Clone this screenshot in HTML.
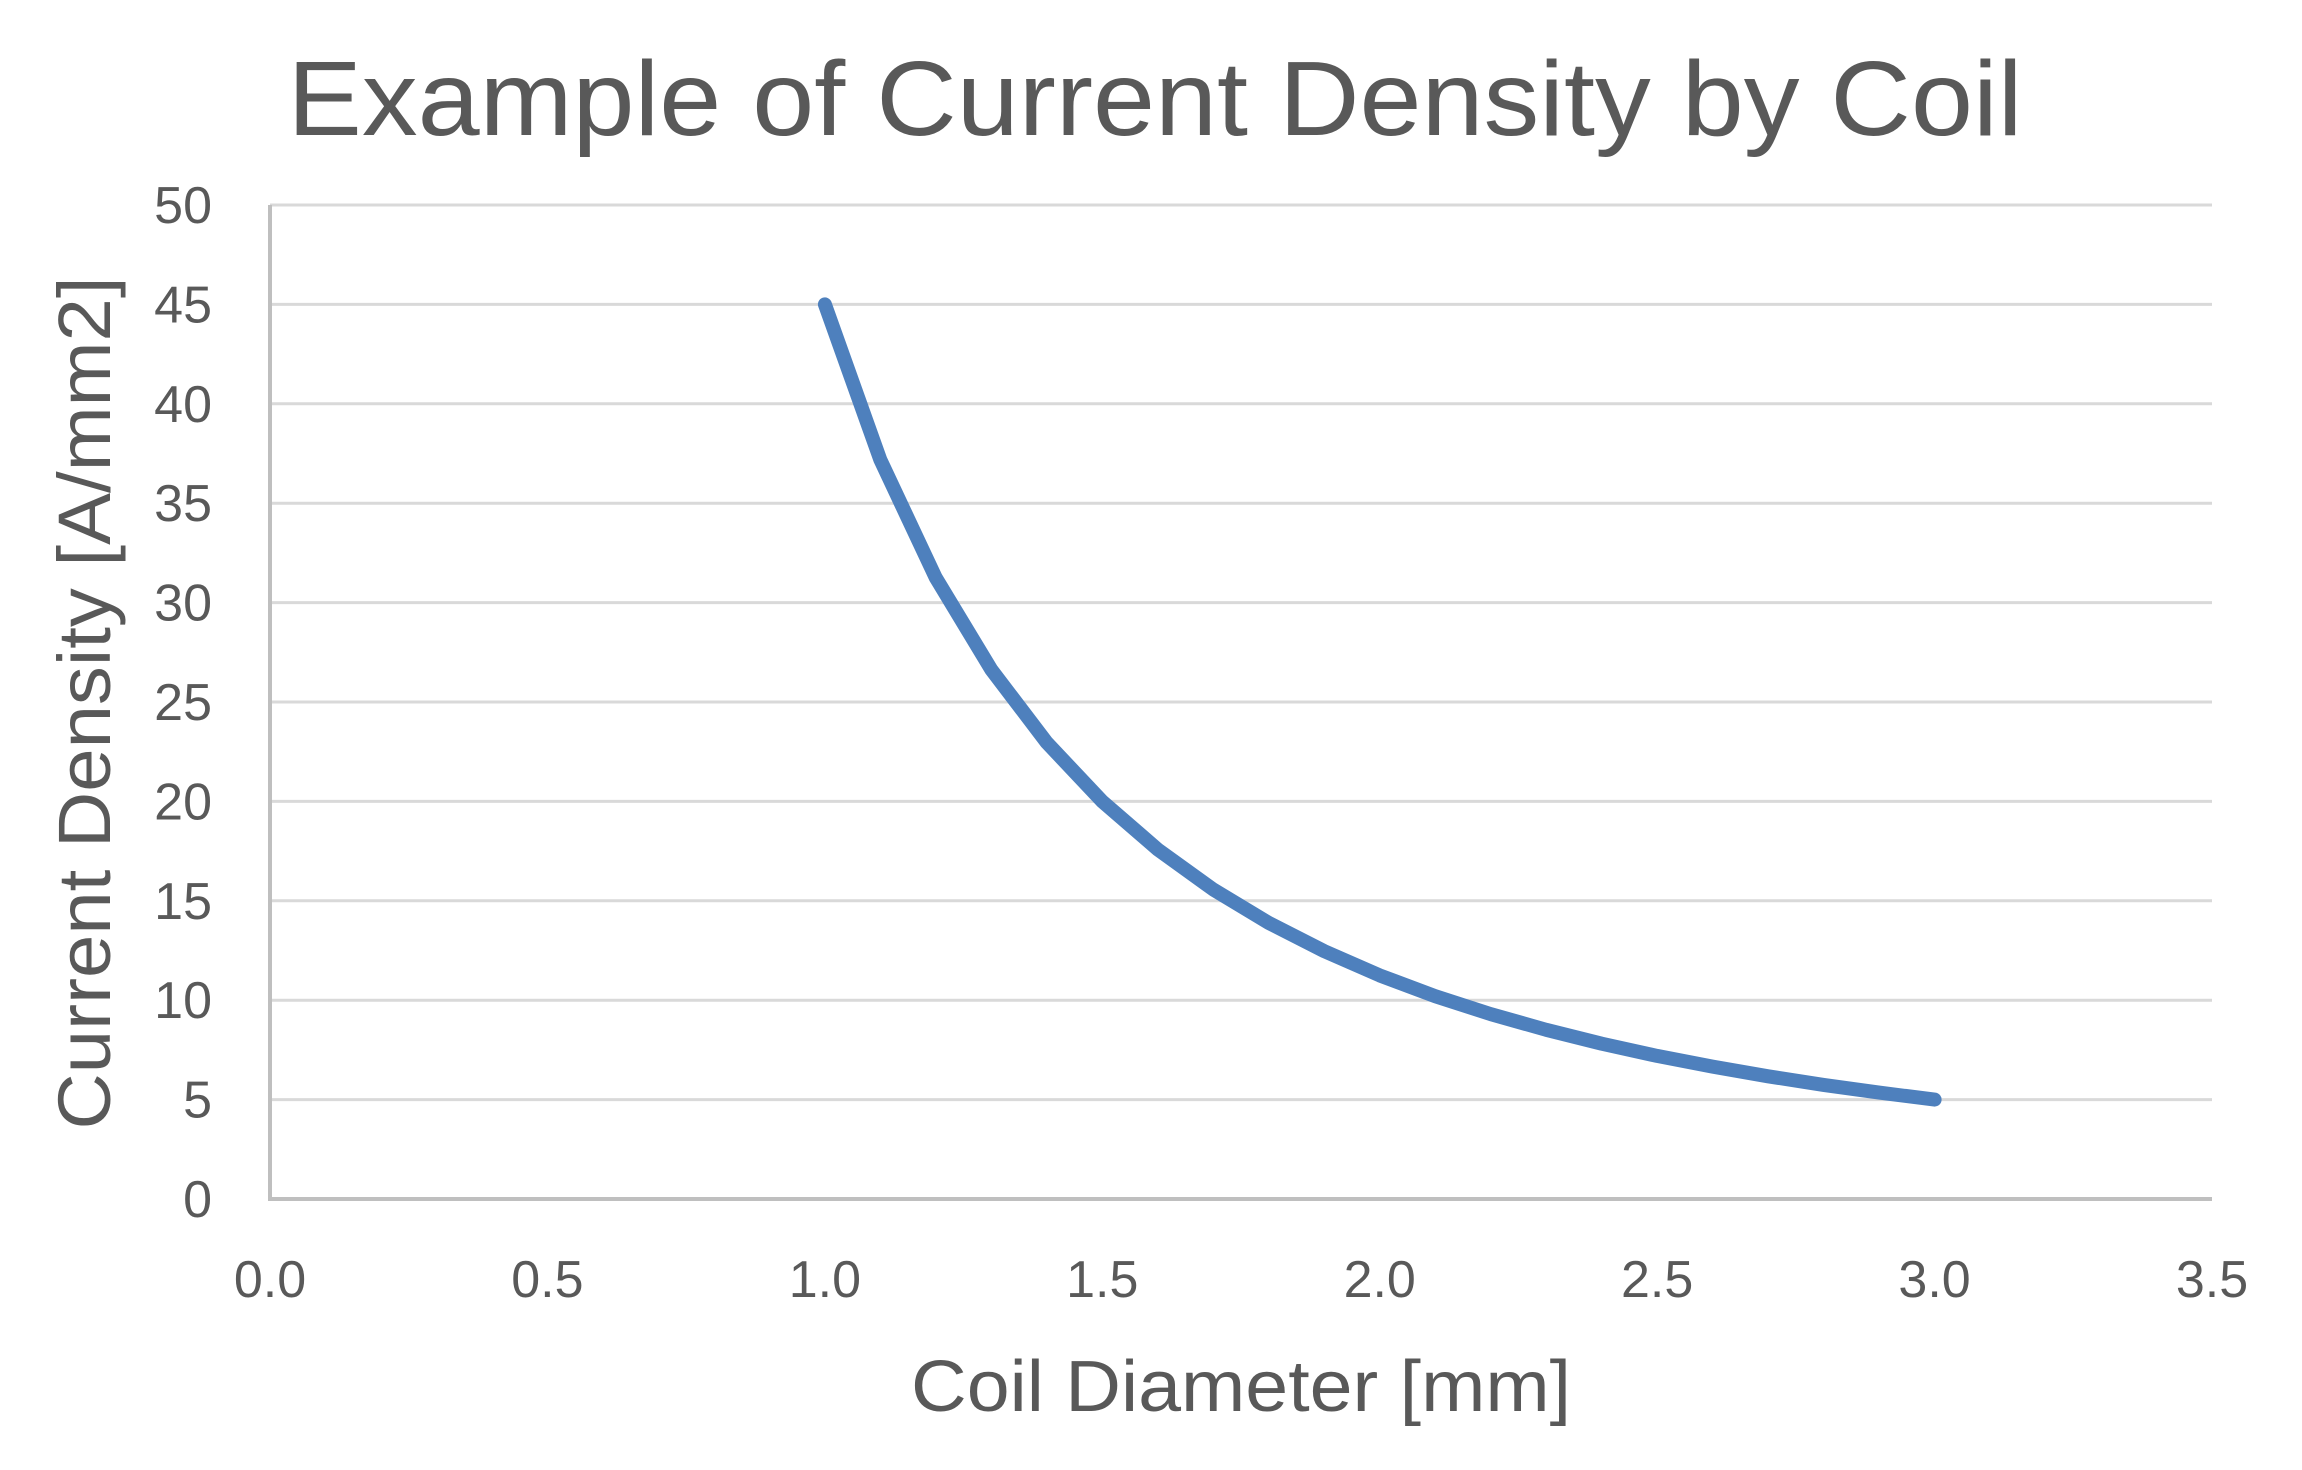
<!DOCTYPE html>
<html><head><meta charset="utf-8"><style>
html,body{margin:0;padding:0;background:#fff;}
svg{display:block;font-family:"Liberation Sans",sans-serif;}
</style></head><body>
<svg id="chart" width="2302" height="1470" viewBox="0 0 2302 1470" xmlns="http://www.w3.org/2000/svg">
<rect width="2302" height="1470" fill="#fff"/>
<text x="1155" y="135" font-size="106" fill="#595959" text-anchor="middle" textLength="1735" lengthAdjust="spacingAndGlyphs">Example of Current Density by Coil</text>
<g id="grid"></g>
<g id="axes"></g>
<g id="series"></g>
<text x="1241" y="1411" font-size="72" fill="#595959" text-anchor="middle" textLength="660" lengthAdjust="spacingAndGlyphs">Coil Diameter [mm]</text>
<text transform="translate(110,703) rotate(-90)" font-size="74" fill="#595959" text-anchor="middle" textLength="853" lengthAdjust="spacingAndGlyphs">Current Density [A/mm2]</text>
</svg>
<script>
const diameters = [1.0,1.1,1.2,1.3,1.4,1.5,1.6,1.7,1.8,1.9,2.0,2.1,2.2,2.3,2.4,2.5,2.6,2.7,2.8,2.9,3.0];
const densities = [45,37.19,31.25,26.63,22.96,20,17.58,15.57,13.89,12.47,11.25,10.20,9.30,8.51,7.81,7.20,6.66,6.17,5.74,5.35,5.0];
const yTicks = [0,5,10,15,20,25,30,35,40,45,50];
const xTicks = [0.0,0.5,1.0,1.5,2.0,2.5,3.0,3.5];

const NS = "http://www.w3.org/2000/svg";
const X0 = 270, X1 = 2212, Y0 = 1199, Y1 = 205;
const xMax = 3.5, yMax = 50;
function sx(v){ return X0 + (X1 - X0) * v / xMax; }
function sy(v){ return Y0 - (Y0 - Y1) * v / yMax; }
function mk(tag, attrs, parent){
  const e = document.createElementNS(NS, tag);
  for (const k in attrs) e.setAttribute(k, attrs[k]);
  parent.appendChild(e);
  return e;
}
const grid = document.getElementById('grid');
const axes = document.getElementById('axes');
const series = document.getElementById('series');

yTicks.forEach(v => {
  if (v > 0) {
    const l = mk('line', {x1: X0, x2: X1, y1: sy(v), y2: sy(v), stroke: '#d9d9d9', 'stroke-width': 3}, grid);
    
    
  }
  const t = mk('text', {x: 212, y: sy(v) + 18, 'font-size': 52, fill: '#595959', 'text-anchor': 'end'}, axes);
  t.textContent = String(v);
  
  
});
xTicks.forEach(v => {
  const t = mk('text', {x: sx(v), y: 1297, 'font-size': 52, fill: '#595959', 'text-anchor': 'middle'}, axes);
  t.textContent = v.toFixed(1);
  
  
});
const xa = mk('line', {x1: X0, x2: X1, y1: Y0, y2: Y0, stroke: '#bfbfbf', 'stroke-width': 4}, axes);


const ya = mk('line', {x1: X0, x2: X0, y1: Y0 + 2, y2: Y1, stroke: '#bfbfbf', 'stroke-width': 4}, axes);



const pts = diameters.map((d, i) => sx(d).toFixed(1) + ',' + sy(densities[i]).toFixed(1)).join(' ');
const pl = mk('polyline', {points: pts, fill: 'none', stroke: '#4e80bd', 'stroke-width': 14, 'stroke-linecap': 'round', 'stroke-linejoin': 'round'}, series);


</script>
</body></html>
